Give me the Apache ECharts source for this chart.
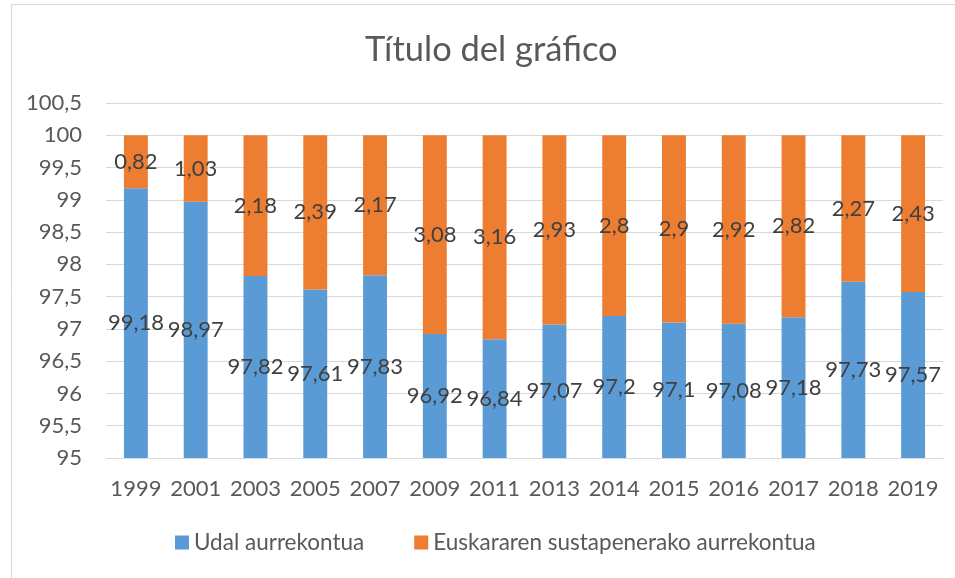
<!DOCTYPE html>
<html>
<head>
<meta charset="utf-8">
<script src="https://cdn.jsdelivr.net/npm/echarts@6/dist/echarts.min.js"></script>
<style>html,body{margin:0;padding:0;background:#fff;}#c{width:955px;height:578px;}</style>
</head>
<body>
<div id="c"></div>
<script>
var categories = ['1999','2001','2003','2005','2007','2009','2011','2013','2014','2015','2016','2017','2018','2019'];
var udal = [99.18, 98.97, 97.82, 97.61, 97.83, 96.92, 96.84, 97.07, 97.2, 97.1, 97.08, 97.18, 97.73, 97.57];
var euskara = [0.82, 1.03, 2.18, 2.39, 2.17, 3.08, 3.16, 2.93, 2.8, 2.9, 2.92, 2.82, 2.27, 2.43];
var seriesNames = ['Udal aurrekontua', 'Euskararen sustapenerako aurrekontua'];

var FONT = 'Lato';
function comma(v){ return String(v).replace('.', ','); }

var chart = echarts.init(document.getElementById('c'), null, {renderer:'canvas'});
var labelStyle = {
  show: true, position: 'inside', color: '#404040', fontFamily: FONT, fontSize: 22,
  formatter: function(p){ return comma(p.value); }
};
chart.setOption({
  animation: false,
  backgroundColor: '#fff',
  title: {
    text: 'Título del gráfico', left: 365, top: 32, padding: 0,
    textStyle: {fontFamily: FONT, fontSize: 34.5, fontWeight: 'normal', color: '#595959'}
  },
  legend: {
    top: 531, left: 175, padding: 0, itemWidth: 14, itemHeight: 14, itemGap: 50,
    icon: 'rect',
    textStyle: {fontFamily: FONT, fontSize: 22.5, color: '#595959', padding: [0,0,0,0]},
    data: seriesNames
  },
  graphic: [{
    type: 'rect', shape: {x: 11.5, y: 4.5, width: 1000, height: 700},
    style: {fill: 'none', stroke: '#d9d9d9', lineWidth: 1}, silent: true, z: -1
  }],
  grid: {left: 106, right: 12, top: 103, bottom: 120},
  xAxis: {
    type: 'category', data: categories,
    axisLine: {lineStyle: {color: '#d9d9d9', width: 1}},
    axisTick: {show: false},
    axisLabel: {fontFamily: FONT, fontSize: 22, color: '#595959', margin: 20, interval: 0}
  },
  yAxis: {
    type: 'value', min: 95, max: 100.5, interval: 0.5,
    axisLine: {show: false}, axisTick: {show: false},
    splitLine: {lineStyle: {color: '#d9d9d9', width: 1}},
    axisLabel: {fontFamily: FONT, fontSize: 22, color: '#595959', margin: 24,
      formatter: function(v){ return comma(Math.round(v*10)/10); }}
  },
  series: [
    {name: seriesNames[0], type: 'bar', stack: 'a', data: udal, barWidth: '40%',
     itemStyle: {color: '#5B9BD5'}, label: labelStyle},
    {name: seriesNames[1], type: 'bar', stack: 'a', data: euskara, barWidth: '40%',
     itemStyle: {color: '#ED7D31'}, label: labelStyle}
  ]
});
</script>
</body>
</html>
